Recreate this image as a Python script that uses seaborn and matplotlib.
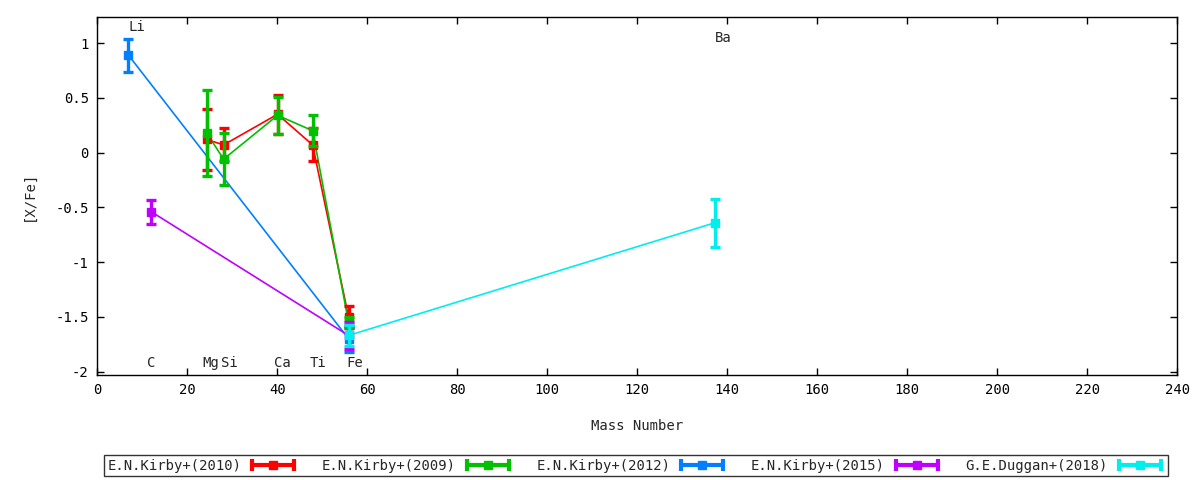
import numpy as np
import pandas as pd
import seaborn as sns
import matplotlib.pyplot as plt
from matplotlib.lines import Line2D
from matplotlib.legend_handler import HandlerLine2D, HandlerTuple

# masas atomicas de cada elemento
mass_li, mass_c, mass_mg, mass_si = 6.94, 12.01, 24.31, 28.09
mass_ca, mass_ti, mass_fe, mass_ba = 40.08, 47.87, 55.85, 137.33

# series [X/Fe] y sus errores
kirby2010_x = [mass_mg, mass_si, mass_ca, mass_ti, mass_fe]
kirby2010_y = [0.12, 0.07, 0.35, 0.07, -1.50]
kirby2010_e = [0.28, 0.15, 0.18, 0.15, 0.10]

kirby2009_x = [mass_mg, mass_si, mass_ca, mass_ti, mass_fe]
kirby2009_y = [0.18, -0.06, 0.34, 0.20, -1.55]
kirby2009_e = [0.39, 0.24, 0.17, 0.14, 0.05]

kirby2012_x = [mass_li, mass_fe]
kirby2012_y = [0.89, -1.70]
kirby2012_e = [0.15, 0.12]

kirby2015_x = [mass_c, mass_fe]
kirby2015_y = [-0.54, -1.67]
kirby2015_e = [0.11, 0.12]

duggan2018_x = [mass_fe, mass_ba]
duggan2018_y = [-1.67, -0.64]
duggan2018_e = [0.10, 0.22]

series_names = ["E.N.Kirby+(2010)", "E.N.Kirby+(2009)", "E.N.Kirby+(2012)",
                "E.N.Kirby+(2015)", "G.E.Duggan+(2018)"]
colores = ["#ff0000", "#00c000", "#0080ff", "#c000ff", "#00eeee"]

elem_labels = ["Li", "Ba", "C", "Mg", "Si", "Ca", "Ti", "Fe"]
elem_x = [mass_li, mass_ba, mass_c - 0.9, mass_mg - 1.0, mass_si - 0.6,
          mass_ca - 0.7, mass_ti - 0.6, mass_fe - 0.5]
elem_y = [1.15, 1.05, -1.92, -1.92, -1.92, -1.92, -1.92, -1.92]

x_ticks = list(range(0, 241, 20))
y_ticks = [1, 0.5, 0, -0.5, -1, -1.5, -2]
y_tick_labels = ["1", "0.5", "0", "-0.5", "-1", "-1.5", "-2"]

frames = []
for name, xs, ys, es in [
        (series_names[0], kirby2010_x, kirby2010_y, kirby2010_e),
        (series_names[1], kirby2009_x, kirby2009_y, kirby2009_e),
        (series_names[2], kirby2012_x, kirby2012_y, kirby2012_e),
        (series_names[3], kirby2015_x, kirby2015_y, kirby2015_e),
        (series_names[4], duggan2018_x, duggan2018_y, duggan2018_e)]:
    frames.append(pd.DataFrame({"mass": xs, "xfe": ys, "err": es, "ref": name}))
df = pd.concat(frames, ignore_index=True)

sns.set_style("ticks")
plt.rcParams['font.family'] = ['DejaVu Sans Mono']
plt.rcParams['axes.unicode_minus'] = False

fig = plt.figure(figsize=(12, 4.8), dpi=100)
ax = fig.add_axes([0.081, 0.219, 0.9, 0.746])

paleta = dict(zip(series_names, colores))
sns.lineplot(data=df, x="mass", y="xfe", hue="ref", palette=paleta,
             hue_order=series_names, sort=False, estimator=None,
             linewidth=1.2, legend=False, ax=ax)

# barras de error y marcadores cuadrados
for i, name in enumerate(series_names):
    sub = df[df["ref"] == name]
    ax.errorbar(sub["mass"], sub["xfe"], yerr=sub["err"], fmt="s",
                color=colores[i], ms=6, elinewidth=2.4, capsize=3.6,
                capthick=2.4, zorder=3 + i)

for lab, xx, yy in zip(elem_labels, elem_x, elem_y):
    ax.text(xx, yy, lab, fontsize=10, ha="left", va="center")

ax.set_xlim(0, 240)
ax.set_ylim(-2.03, 1.24)
ax.set_xticks(x_ticks)
ax.set_xticklabels([str(t) for t in x_ticks])
ax.set_yticks(y_ticks)
ax.set_yticklabels(y_tick_labels)
ax.tick_params(direction="in", top=True, right=True, length=5, width=1,
               labelsize=10, colors="black", pad=6)
for s in ax.spines.values():
    s.set_linewidth(1)
    s.set_color("black")
ax.set_xlabel("Mass Number", fontsize=10, labelpad=16)
ax.set_ylabel("[X/Fe]", fontsize=10, labelpad=14)

# muestra de leyenda tipo gnuplot: linea con topes y cuadrado al centro
handles = []
hmap = {tuple: HandlerTuple(ndivide=1, pad=0)}
for c in colores:
    topes = Line2D([0], [0], color=c, lw=3, marker="|", ms=9, mew=3)
    cuadro = Line2D([0], [0], color=c, lw=0, marker="s", ms=6)
    hmap[topes] = HandlerLine2D(numpoints=2)
    handles.append((topes, cuadro))

leg = fig.legend(handles, series_names, loc="lower center",
                 bbox_to_anchor=(0.53, 0.008), ncol=5, markerfirst=False,
                 fontsize=10, frameon=True, fancybox=False, handlelength=3.6,
                 columnspacing=1.7, borderpad=0.25, handletextpad=0.5,
                 handler_map=hmap, borderaxespad=0)
leg.get_frame().set_edgecolor("black")
leg.get_frame().set_linewidth(1)

fig.savefig("out.png", dpi=100)
plt.close()
